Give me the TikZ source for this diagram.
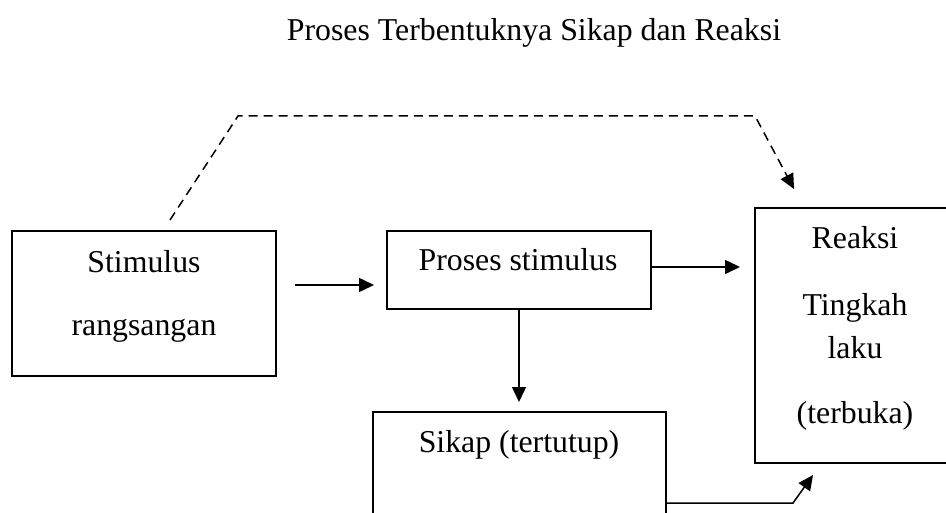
\documentclass[tikz,border=0pt]{standalone}
\usepackage{fontspec}
\setmainfont{Liberation Serif}
\usetikzlibrary{arrows.meta}
\begin{document}
\begin{tikzpicture}[x=0.5pt,y=-0.5pt,
  box/.style={draw, line width=0.75pt, inner sep=0pt, outer sep=0pt},
  txt/.style={anchor=base, inner sep=0pt, font=\fontsize{15.9}{18}\selectfont},
  arr/.style={line width=0.75pt, -{Triangle[length=7.5pt,width=7pt]}},
  dashline/.style={line width=0.75pt, dash pattern=on 4.5pt off 3pt, -{Triangle[length=7.5pt,width=7pt]}}]
\clip (0,0) rectangle (946,513);

% title
\node[txt] (title) at (534,41) {Proses Terbentuknya Sikap dan Reaksi};

% boxes
\node[box, minimum width=132pt, minimum height=72.5pt] (stim) at (144,303.5) {};
\node[box, minimum width=132pt, minimum height=39pt] (proses) at (519,270) {};
\node[box, minimum width=100pt, minimum height=127.5pt] (reaksi) at (855,335.5) {};
\node[box, minimum width=146.5pt, minimum height=74pt] (sikap) at (519.5,486) {};

% texts
\node[txt] (t1) at (144,272) {Stimulus};
\node[txt] (t2) at (144,335) {rangsangan};
\node[txt] (t3) at (518,270) {Proses stimulus};
\node[txt] (t4) at (855,248) {Reaksi};
\node[txt] (t5) at (855,315) {Tingkah};
\node[txt] (t6) at (855,358) {laku};
\node[txt] (t7) at (855,423) {(terbuka)};
\node[txt] (t8) at (519,452) {Sikap (tertutup)};

% free ends
\coordinate (a1s) at (295,285);
\coordinate (a1e) at (374,285);
\coordinate (a2e) at (740,267);
\coordinate (a3e) at (519,402);
\coordinate (a4m) at (793,503);
\coordinate (a4e) at (813,475);
\coordinate (d0) at (170,220);
\coordinate (d1) at (238,116);
\coordinate (d2) at (755,116);
\coordinate (d3) at (794,189);

% connectors
\draw[arr] (a1s) -- (a1e);
\draw[arr] (proses.east |- a2e) -- (a2e);
\draw[arr] (proses.south) -- (a3e);
\draw[arr] (sikap.east |- a4m) -- (a4m) -- (a4e);
\draw[dashline] (d0) -- (d1) -- (d2) -- (d3);
\end{tikzpicture}
\end{document}
